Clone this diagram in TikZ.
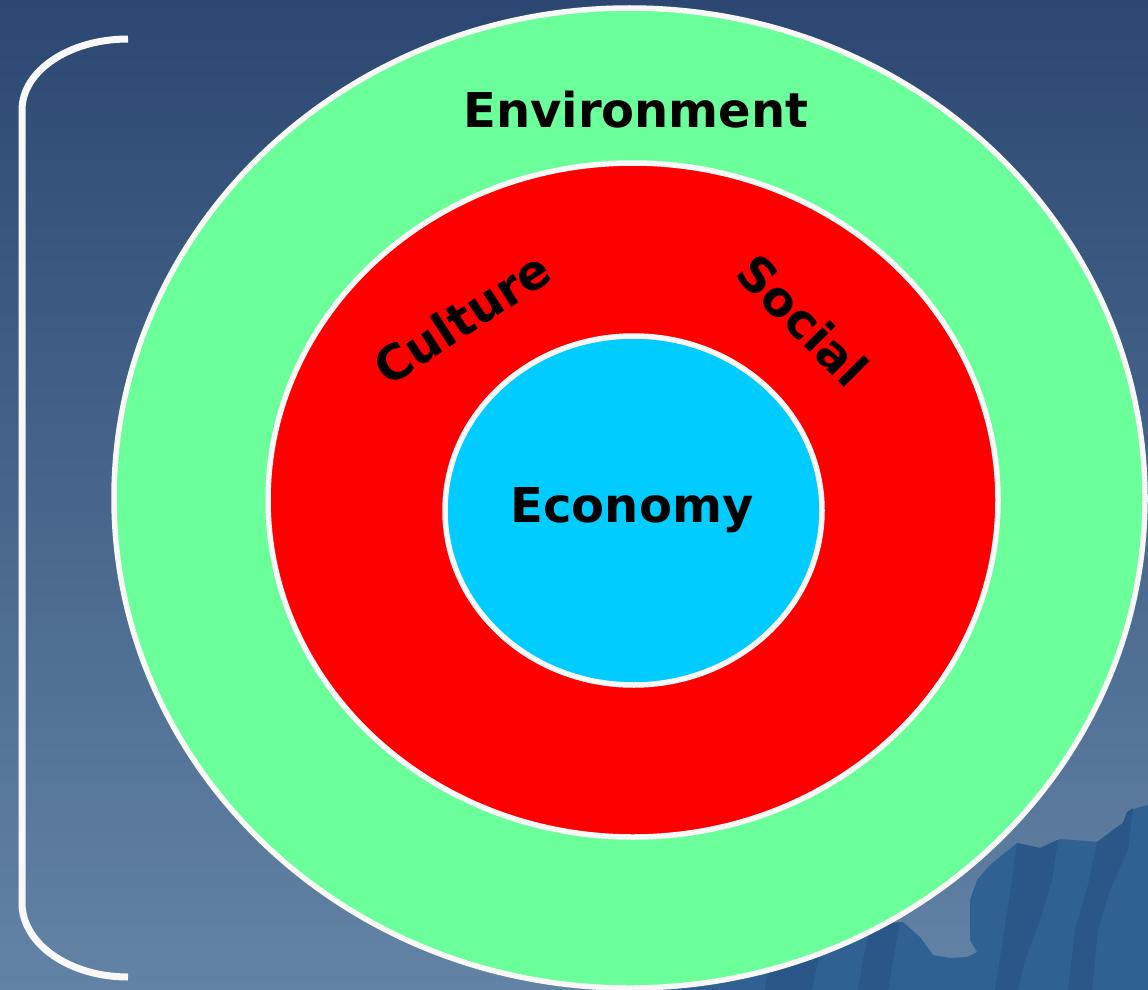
\documentclass[tikz,border=0pt]{standalone}
\usepackage{fontspec}
\setmainfont{DejaVu Sans}
\usetikzlibrary{shapes.geometric}
\definecolor{bgtop}{RGB}{44,72,114}
\definecolor{bgbot}{RGB}{99,131,166}
\definecolor{envgreen}{RGB}{107,255,155}
\definecolor{socred}{RGB}{255,0,0}
\definecolor{ecoblue}{RGB}{0,204,255}
\definecolor{ringwhite}{RGB}{248,248,248}
\definecolor{mtnmid}{RGB}{48,97,147}
\definecolor{mtndark}{RGB}{42,86,136}
\tikzset{
  ring/.style={ellipse, draw=ringwhite, line width=5.5pt, inner sep=0pt, outer sep=0pt},
  lbl/.style={font=\fontsize{48pt}{56pt}\selectfont\bfseries, text=black, inner sep=0pt},
  bracketline/.style={draw=ringwhite, line width=7pt},
}
\begin{document}
\begin{tikzpicture}[x=1pt,y=-1pt]
\useasboundingbox (0,0) rectangle (1148,990);
% background
\shade[top color=bgtop, bottom color=bgbot] (0,0) rectangle (1148,990);
% mountain
\fill[mtnmid] (600,990) -- (700,975) -- (800,950) -- (860,925) -- (903,922) -- (920,937) -- (933,955) -- (950,958) -- (967,957) -- (977,952) -- (970,940) -- (970,900) -- (977,880) -- (990,865) -- (1017,843) -- (1040,848) -- (1053,842) -- (1060,839) -- (1100,842) -- (1113,830) -- (1123,823) -- (1127,812) -- (1137,808) -- (1148,805) -- (1148,990) -- cycle;
\fill[mtndark] (1017,843) -- (1040,848) -- (1053,842) -- (1058,840) -- (1052,880) -- (1040,920) -- (1025,960) -- (1018,990) -- (995,990) -- (1002,945) -- (1010,895) -- cycle;
\fill[mtndark] (1097,842) -- (1113,830) -- (1123,823) -- (1127,812) -- (1133,808) -- (1128,850) -- (1110,890) -- (1098,930) -- (1092,990) -- (1068,990) -- (1075,930) -- (1088,885) -- cycle;
\fill[mtndark] (870,930) -- (900,922) -- (893,960) -- (888,990) -- (858,990) -- (864,955) -- cycle;
\fill[mtndark] (770,962) -- (820,950) -- (815,975) -- (812,990) -- (765,990) -- cycle;
% bracket
\coordinate (btop) at (128,39);
\coordinate (bbot) at (128,977);
\draw[bracketline] (btop) .. controls (69.5,39) and (22,70.8) .. (22,110) -- (22,903) .. controls (22,943.9) and (69.5,977) .. (bbot);
% rings
\node[ring, fill=envgreen, minimum width=1031pt, minimum height=980pt] (outer) at (629.5,498) {};
\node[ring, fill=socred, minimum width=730pt, minimum height=674pt] (middle) at (633,500) {};
\node[ring, fill=ecoblue, minimum width=377pt, minimum height=349pt] (inner) at (633.5,510.5) {};
% labels
\node[lbl] (env) at (636,110) {Environment};
\node[lbl, rotate=33] (cul) at (462,318) {Culture};
\node[lbl, rotate=-45] (soc) at (803,320) {Social};
\node[lbl, anchor=base] (eco) at (632,522) {Economy};
\end{tikzpicture}
\end{document}
